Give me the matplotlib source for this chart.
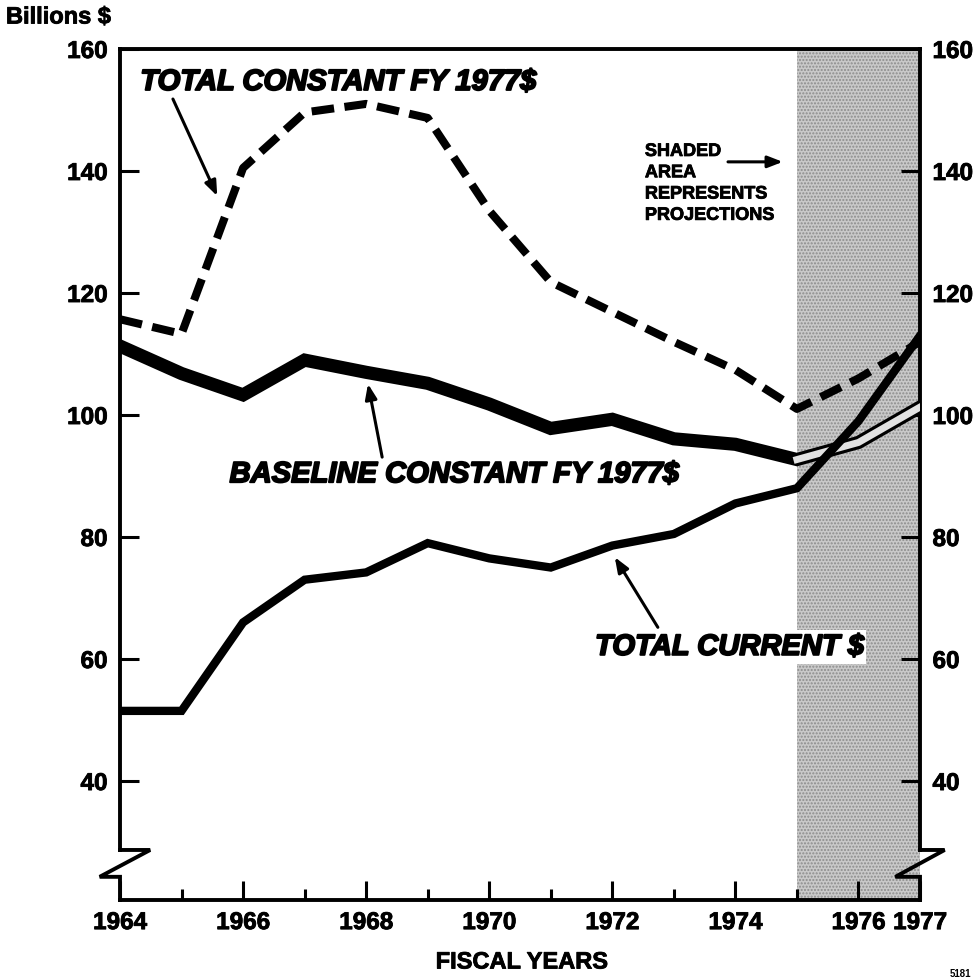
import matplotlib
matplotlib.use("Agg")
import matplotlib.pyplot as plt
import matplotlib.patheffects as pe

# Dane (mld $)
years = [1964, 1965, 1966, 1967, 1968, 1969, 1970, 1971, 1972, 1973, 1974, 1975, 1976, 1977]
total_constant = [115.7, 113.3, 140.5, 149.6, 151.0, 148.7, 133.5, 121.8, 116.9, 112.0, 107.4, 101.0, 106.0, 112.0]
baseline_constant = [111.3, 106.8, 103.3, 109.0, 107.0, 105.2, 101.8, 97.8, 99.3, 96.1, 95.2, 92.7, 95.5, 101.3]
total_current = [51.5, 51.5, 66.0, 73.0, 74.2, 79.0, 76.5, 75.0, 78.6, 80.5, 85.5, 88.0, 99.0, 113.0]

y_ticks = [40, 60, 80, 100, 120, 140, 160]
x_major = [1964, 1966, 1968, 1970, 1972, 1974, 1976, 1977]
x_minor = [1965, 1967, 1969, 1971, 1973, 1975]
proj_start, proj_end = 1975, 1977

plt.rcParams['font.family'] = ['Liberation Sans', 'DejaVu Sans']
plt.rcParams['font.weight'] = 'bold'

heavy = [pe.withStroke(linewidth=0.6, foreground='black')]
heavy_lab = [pe.withStroke(linewidth=1.4, foreground='black')]

fig = plt.figure(figsize=(9.77, 9.79), dpi=100)
ax = fig.add_axes([120 / 977, 1 - 901 / 979, 800 / 977, 851 / 979])
y_lo, y_hi = 20.5, 160
ax.set_xlim(1964, 1977)
ax.set_ylim(y_lo, y_hi)

# Obszar prognozy
ax.axvspan(proj_start, proj_end, facecolor='#c9c9c9', hatch='.....', edgecolor='#8c8c8c',
           linewidth=0, zorder=0)

# Serie
ax.plot(years, total_constant, color='black', lw=5.8, linestyle=(0, (2.8, 1.3)),
        dash_capstyle='butt', zorder=3)
ax.plot(years, baseline_constant, color='black', lw=9.5, solid_joinstyle='miter', zorder=3)
i0 = years.index(proj_start)
ax.plot(years[i0:], baseline_constant[i0:], color='#e2e2e2', lw=5, zorder=4)
ax.plot(years, total_current, color='black', lw=6, solid_joinstyle='miter', zorder=5)

# Osie i przerwanie osi
lw_sp = 2.8
for s in ['top', 'bottom', 'left', 'right']:
    ax.spines[s].set_linewidth(lw_sp)
brk_lo, brk_hi = 24.3, 28.7
ax.spines['left'].set_bounds(brk_hi, y_hi)
ax.spines['right'].set_bounds(brk_hi, y_hi)
ax.plot([1964, 1964, 1963.67, 1964.49, 1964], [y_lo, brk_lo, brk_lo, brk_hi, brk_hi],
        color='black', lw=lw_sp, clip_on=False, zorder=6, solid_joinstyle='miter')
ax.plot([1977, 1977, 1976.6, 1977.4, 1977], [y_lo, brk_lo, brk_lo, brk_hi, brk_hi],
        color='black', lw=lw_sp, clip_on=False, zorder=6, solid_joinstyle='miter')

ax.set_yticks(y_ticks)
ax.set_xticks(x_major)
ax.set_xticks(x_minor, minor=True)
ax.tick_params(axis='y', direction='in', length=14, width=2.2, labelsize=17.5, pad=9,
               left=True, right=True, labelleft=True, labelright=True)
ax.tick_params(axis='x', which='major', direction='in', length=14, width=2.2, labelsize=17.5, pad=8)
ax.tick_params(axis='x', which='minor', direction='in', length=8, width=2.2)
for lab in ax.get_xticklabels() + ax.yaxis.get_majorticklabels():
    lab.set_fontweight('bold')
    lab.set_path_effects(heavy)
for t in ax.yaxis.get_major_ticks():
    t.label2.set_fontweight('bold')
    t.label2.set_path_effects(heavy)

# Etykiety serii
lab_font = dict(fontsize=21, fontweight='bold', fontstyle='italic', color='black',
                path_effects=heavy_lab)
ax.text(1964.33, 154.6, "TOTAL CONSTANT FY 1977$", ha='left', va='center', **lab_font)
ax.text(1965.78, 90.3, "BASELINE CONSTANT FY 1977$", ha='left', va='center', zorder=7, **lab_font)
ax.text(1971.72, 62.0, "TOTAL CURRENT $", ha='left', va='center', zorder=7,
        bbox=dict(facecolor='white', edgecolor='none', pad=2), **lab_font)
ax.text(1972.53, 144.6, "SHADED\nAREA\nREPRESENTS\nPROJECTIONS", ha='left', va='top',
        fontsize=13, fontweight='bold', linespacing=1.33, path_effects=heavy)

arrow = dict(arrowstyle='-|>,head_length=0.9,head_width=0.35', color='black', lw=2.2,
             shrinkA=0, shrinkB=0)
ax.annotate('', xy=(1965.58, 135.9), xytext=(1964.86, 151.8), arrowprops=arrow)
ax.annotate('', xy=(1968.03, 105.1), xytext=(1968.26, 93.1), arrowprops=arrow)
ax.annotate('', xy=(1972.04, 76.7), xytext=(1972.74, 65.2), arrowprops=arrow)
ax.annotate('', xy=(1974.77, 141.5), xytext=(1973.88, 141.5), arrowprops=arrow)

# Tytuły osi
fig.text(6 / 977, 1 - 18 / 979, "Billions $", ha='left', va='center', fontsize=17,
         fontweight='bold', path_effects=heavy)
fig.text(522 / 977, 1 - 963 / 979, "FISCAL YEARS", ha='center', va='center', fontsize=17,
         fontweight='bold', path_effects=heavy)
fig.text(950 / 977, 1 - 974 / 979, "5181", ha='left', va='center', fontsize=7, fontweight='bold')

fig.savefig("out.png", dpi=100)
